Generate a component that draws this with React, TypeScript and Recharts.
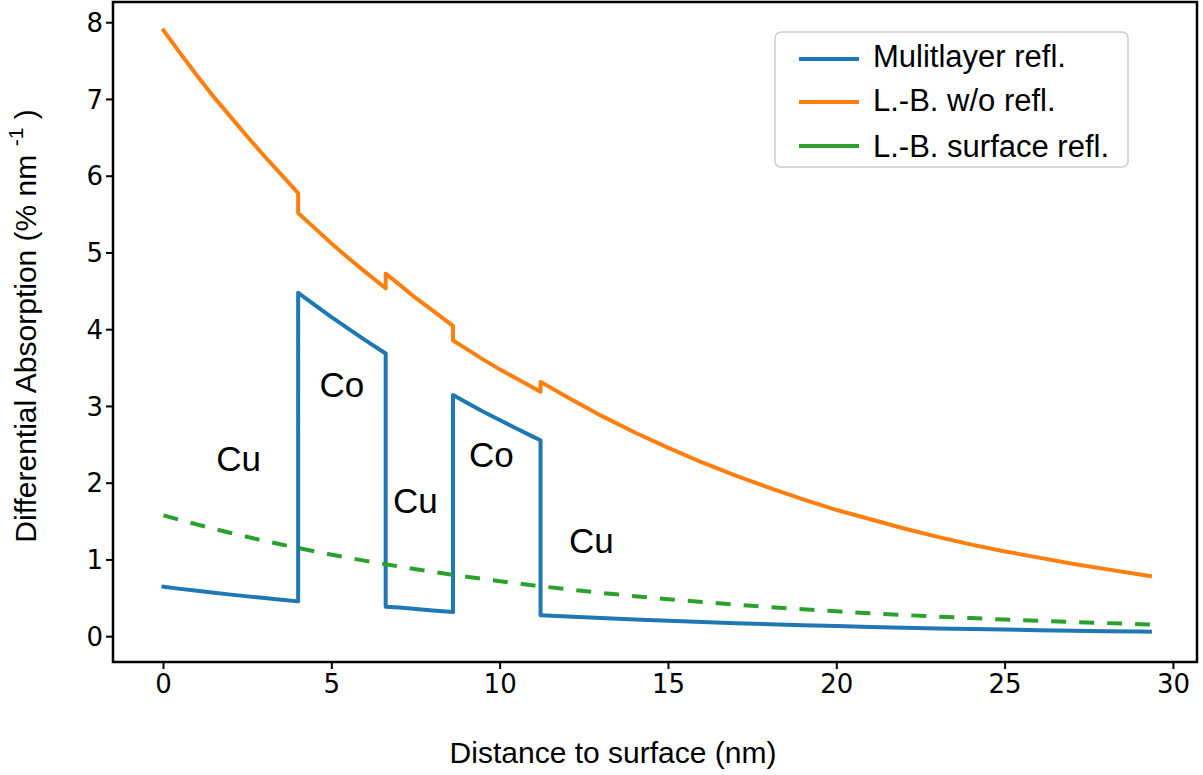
import { LineChart, Line, XAxis, YAxis, ReferenceArea, ReferenceDot } from 'recharts'

// depth (nm); layer boundaries appear twice so the jumps draw as vertical steps
const depth = [
  0, 0.5, 1, 1.5, 2, 2.5, 3, 3.5, 4,
  4, 4.5, 5, 5.5, 6, 6.6,
  6.6, 7, 7.5, 8, 8.6,
  8.6, 9, 9.5, 10, 10.5, 11, 11.2,
  11.2, 12, 13, 14, 15, 16, 17, 18, 19, 20, 21, 22, 23, 24, 25, 26, 27, 28, 29,
  29.3,
]

const multilayer = [
  0.65, 0.623, 0.597, 0.572, 0.548, 0.525, 0.503, 0.482, 0.46,
  4.48, 4.32, 4.16, 4.01, 3.86, 3.69,
  0.39, 0.38, 0.36, 0.34, 0.32,
  3.15, 3.05, 2.93, 2.82, 2.71, 2.6, 2.56,
  0.28, 0.262, 0.242, 0.223, 0.206, 0.19, 0.175, 0.162, 0.149, 0.138, 0.127, 0.117, 0.108, 0.1, 0.092, 0.085, 0.078, 0.072, 0.067,
  0.065,
]

const lbNoRefl = [
  7.9, 7.6, 7.31, 7.03, 6.77, 6.51, 6.26, 6.02, 5.78,
  5.52, 5.32, 5.12, 4.93, 4.75, 4.54,
  4.73, 4.59, 4.41, 4.25, 4.05,
  3.86, 3.75, 3.61, 3.48, 3.36, 3.24, 3.19,
  3.32, 3.12, 2.88, 2.66, 2.46, 2.27, 2.1, 1.94, 1.79, 1.65, 1.53, 1.41, 1.3, 1.2, 1.11, 1.03, 0.95, 0.88, 0.81,
  0.79,
]

const lbSurface = [
  1.58, 1.519, 1.461, 1.405, 1.351, 1.299, 1.249, 1.201, 1.155,
  1.155, 1.111, 1.068, 1.027, 0.988, 0.944,
  0.944, 0.914, 0.879, 0.845, 0.806,
  0.806, 0.781, 0.751, 0.722, 0.694, 0.668, 0.657,
  0.657, 0.618, 0.571, 0.528, 0.488, 0.452, 0.418, 0.386, 0.357, 0.33, 0.305, 0.282, 0.261, 0.242, 0.223, 0.207, 0.191, 0.177, 0.163,
  0.159,
]

const xTicks = [0, 5, 10, 15, 20, 25, 30]
const yTicks = [0, 1, 2, 3, 4, 5, 6, 7, 8]

const layerNames = ['Cu', 'Co', 'Cu', 'Co', 'Cu']
const layerLabelX = [2.23, 5.3, 7.48, 9.74, 12.71]
const layerLabelY = [2.32, 3.28, 1.77, 2.37, 1.25]

const seriesNames = ['Mulitlayer refl.', 'L.-B. w/o refl.', 'L.-B. surface refl.']
const seriesColors = ['#1f77b4', '#ff7f0e', '#2ca02c']

const X_DOMAIN: [number, number] = [-1.5, 30.7]
const Y_DOMAIN: [number, number] = [-0.33, 8.27]

const SANS = '"Liberation Sans", Arial, sans-serif'
const TICK_FONT = '"DejaVu Sans", sans-serif'

const rows = depth.map((d, i) => ({
  depth: d,
  multilayer: multilayer[i],
  lbNoRefl: lbNoRefl[i],
  lbSurface: lbSurface[i],
}))

const legendHandleY = [59, 102, 146]
const legendTextY = [67, 111, 157]

function Overlay() {
  return (
    <svg
      width={1203}
      height={775}
      style={{ position: 'absolute', left: 0, top: 0, pointerEvents: 'none' }}
    >
      <text x={613} y={763} textAnchor="middle" fontSize={30} fontFamily={SANS} fill="#000">
        Distance to surface (nm)
      </text>
      <text
        transform="translate(36,326) rotate(-90)"
        textAnchor="middle"
        fontSize={30}
        fontFamily={SANS}
        fill="#000"
      >
        Differential Absorption (% nm{'\u00a0'}
        <tspan fontSize={21} dy={-13}>-1</tspan>
        <tspan dy={13}>{'\u00a0'})</tspan>
      </text>

      <rect x={775} y={32} width={353} height={135} rx={6} fill="#fff" fillOpacity={0.8} stroke="#cccccc" strokeWidth={1.5} />
      {seriesNames.map((name, i) => (
        <g key={name}>
          <line x1={799} x2={859} y1={legendHandleY[i]} y2={legendHandleY[i]} stroke={seriesColors[i]} strokeWidth={4} />
          <text x={873} y={legendTextY[i]} fontSize={31} fontFamily={SANS} fill="#000">
            {name}
          </text>
        </g>
      ))}
    </svg>
  )
}

export default function App() {
  return (
    <div style={{ position: 'absolute', left: 0, top: 0, width: 1203, height: 775, background: '#fff' }}>
      <LineChart width={1203} height={775} data={rows} margin={{ top: 2, right: 6, left: 0, bottom: 0 }}>
        <XAxis
          dataKey="depth"
          type="number"
          domain={X_DOMAIN}
          ticks={xTicks}
          interval={0}
          allowDataOverflow
          axisLine={false}
          tickLine={{ stroke: '#000', strokeWidth: 2 }}
          tickSize={7}
          tickMargin={6}
          height={113}
          tick={{ fill: '#000', fontSize: 26, fontFamily: TICK_FONT }}
        />
        <YAxis
          type="number"
          domain={Y_DOMAIN}
          ticks={yTicks}
          interval={0}
          allowDataOverflow
          axisLine={false}
          tickLine={{ stroke: '#000', strokeWidth: 2 }}
          tickSize={7}
          tickMargin={3}
          width={113}
          tick={{ fill: '#000', fontSize: 26, fontFamily: TICK_FONT }}
        />
        <Line
          dataKey="multilayer"
          type="linear"
          stroke={seriesColors[0]}
          strokeWidth={4}
          strokeLinejoin="round"
          strokeLinecap="square"
          dot={false}
          activeDot={false}
          isAnimationActive={false}
        />
        <Line
          dataKey="lbNoRefl"
          type="linear"
          stroke={seriesColors[1]}
          strokeWidth={4}
          strokeLinejoin="round"
          strokeLinecap="square"
          dot={false}
          activeDot={false}
          isAnimationActive={false}
        />
        <Line
          dataKey="lbSurface"
          type="linear"
          stroke={seriesColors[2]}
          strokeWidth={4}
          strokeDasharray="15 13"
          dot={false}
          activeDot={false}
          isAnimationActive={false}
        />
        {layerNames.map((name, i) => (
          <ReferenceDot
            key={i}
            x={layerLabelX[i]}
            y={layerLabelY[i]}
            r={0}
            fill="none"
            stroke="none"
            label={{ value: name, position: 'center', fontSize: 35, fill: '#000', fontFamily: SANS }}
          />
        ))}
        <ReferenceArea
          x1={X_DOMAIN[0]}
          x2={X_DOMAIN[1]}
          y1={Y_DOMAIN[0]}
          y2={Y_DOMAIN[1]}
          fill="none"
          stroke="#000"
          strokeWidth={2.5}
        />
      </LineChart>
      <Overlay />
    </div>
  )
}
